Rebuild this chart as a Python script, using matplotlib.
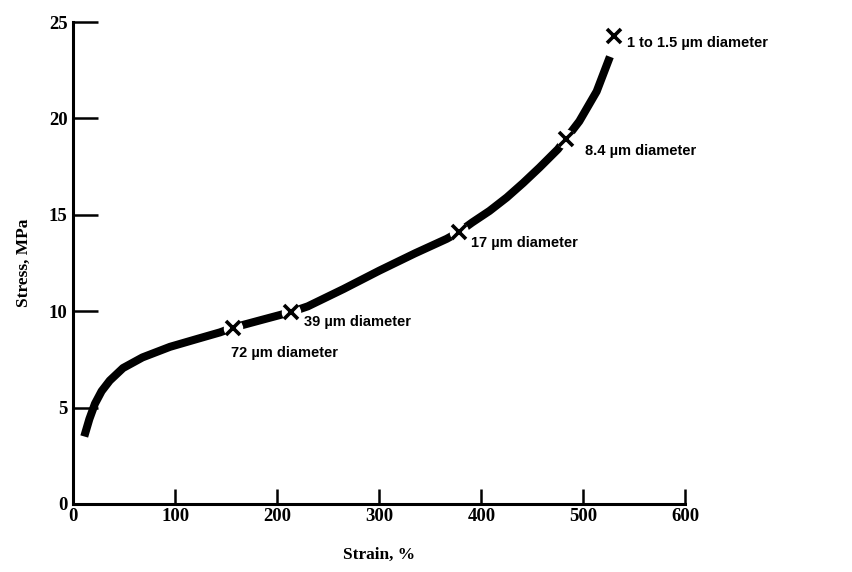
import matplotlib.pyplot as plt

# curve
strain = [11, 16, 21.5, 28, 36, 49, 68, 95, 121, 144, 157, 185, 214, 230,
          265, 300, 335, 366, 378, 391, 408, 425, 441, 457, 475, 483, 496,
          513, 526]
stress = [3.5, 4.4, 5.2, 5.85, 6.4, 7.05, 7.6, 8.15, 8.55, 8.9, 9.15, 9.55,
          9.96, 10.25, 11.15, 12.1, 13.0, 13.75, 14.1, 14.6, 15.2, 15.9, 16.65,
          17.45, 18.4, 18.95, 19.85, 21.4, 23.2]

# fibre diameter markers
mark_x = [157, 214, 378, 483, 530]
mark_y = [9.15, 9.96, 14.1, 18.95, 24.3]
mark_lbl = ['72 \u00b5m diameter', '39 \u00b5m diameter', '17 \u00b5m diameter',
            '8.4 \u00b5m diameter', '1 to 1.5 \u00b5m diameter']
lbl_off = [(-2, -25), (13, -10), (12, -11), (19, -12), (13, -7)]

fig = plt.figure(figsize=(8.53, 5.72), dpi=100)
ax = fig.add_axes([0.0856, 0.119, 0.718, 0.8425])

ax.plot(strain, stress, '-', color='black', lw=5.8, solid_capstyle='butt',
        solid_joinstyle='round')
# white gaps round the markers, then the crosses
ax.plot(mark_x, mark_y, 'o', ms=13, color='white', zorder=3)
ax.plot(mark_x, mark_y, 'x', ms=10, mew=2.6, color='black', zorder=4)

for x, y, s, off in zip(mark_x, mark_y, mark_lbl, lbl_off):
    ax.annotate(s, (x, y), xytext=off, textcoords='offset pixels',
                ha='left', va='center', fontsize=10.5, fontweight='bold',
                family='Liberation Sans')

ax.set_xlim(0, 600)
ax.set_ylim(0, 25)
ax.set_xticks([0, 100, 200, 300, 400, 500, 600])
ax.set_yticks([0, 5, 10, 15, 20, 25])
ax.spines['top'].set_visible(False)
ax.spines['right'].set_visible(False)
for sp in ['left', 'bottom']:
    ax.spines[sp].set_linewidth(2.2)
ax.tick_params(axis='y', direction='in', length=18, width=1.8, pad=4)
ax.tick_params(axis='x', direction='in', length=11, width=1.8, pad=3)
for lab in ax.get_xticklabels() + ax.get_yticklabels():
    lab.set_family('Liberation Serif')
    lab.set_fontsize(13.5)
    lab.set_fontweight('bold')

ax.set_xlabel('Strain, %', family='Liberation Serif', fontsize=12.5,
              fontweight='bold', labelpad=16)
ax.set_ylabel('Stress, MPa', family='Liberation Serif', fontsize=12.5,
              fontweight='bold', labelpad=12)

fig.savefig('out.png', dpi=100)
